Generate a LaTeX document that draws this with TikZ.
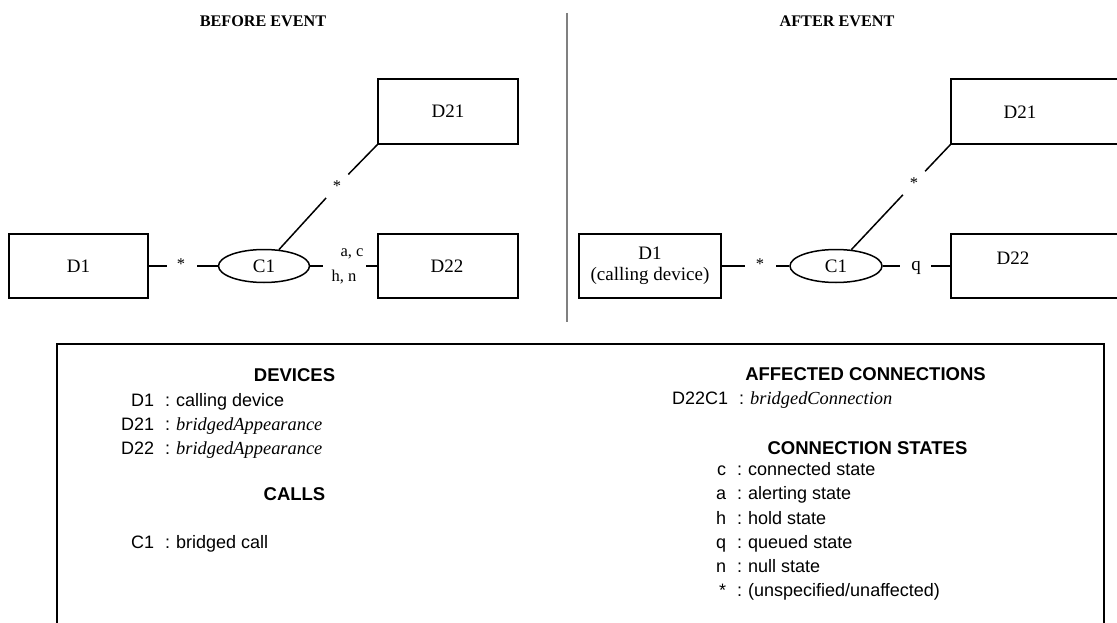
\documentclass[tikz,border=0pt]{standalone}
\usepackage{fontspec}
\setmainfont{Liberation Serif}
\setsansfont{Liberation Sans}
\usetikzlibrary{shapes.geometric}
\tikzset{
  box/.style={draw, line width=1.5pt, rectangle, inner sep=0pt},
  call/.style={draw, line width=1.5pt, ellipse, inner sep=0pt, minimum width=91pt, minimum height=33pt, font=\fontsize{19}{21}\selectfont},
  dlabel/.style={font=\fontsize{19}{21}\selectfont, inner sep=0pt, align=center},
  slabel/.style={font=\fontsize{16.5}{18}\selectfont, inner sep=0pt},
  gap/.style={inner sep=0pt, minimum height=1pt},
  stargap/.style={circle, inner sep=0pt, minimum size=32pt, font=\fontsize{16.5}{18}\selectfont},
  conn/.style={line width=1.5pt},
  title/.style={font=\fontsize{16.2}{18}\selectfont\bfseries},
  lhead/.style={font=\sffamily\bfseries\fontsize{18.5}{20}\selectfont, anchor=base, inner sep=0pt},
  lrow/.style={font=\sffamily\fontsize{18}{20}\selectfont, anchor=base west, inner sep=0pt},
}
\newcommand{\lkey}[1]{\makebox[0pt][r]{#1}\hspace{11pt}:\hspace{6pt}}
\newcommand{\ival}[1]{{\rmfamily\itshape\fontsize{18.4}{20}\selectfont #1}}
\begin{document}
\begin{tikzpicture}[x=1pt,y=-1pt]
\useasboundingbox (0,0) rectangle (1117,623);
\clip (0,0) rectangle (1117,623);

% titles and separator
\node[title] (tb) at (263,21) {BEFORE EVENT};
\node[title] (ta) at (837,21) {AFTER EVENT};
\draw[line width=1.5pt, color=black!50] (567,13) -- (567,322);

% ---------------- BEFORE ----------------
\node[box, minimum width=139pt, minimum height=64pt] (bD1) at (78.5,266) {};
\node[dlabel] (bD1t) at (78.5,266) {D1};
\node[box, minimum width=140pt, minimum height=65pt] (bD21) at (448,111.5) {};
\node[dlabel] (bD21t) at (448,111.5) {D21};
\node[box, minimum width=140pt, minimum height=64pt] (bD22) at (448,266) {};
\node[dlabel] (bD22t) at (447,266) {D22};
\node[call] (bC1) at (264,266) {C1};

\node[gap, minimum width=30pt] (bs1) at (182,266) {};
\node[slabel] (bs1t) at (181,264) {*};
\draw[conn] (bD1.east) -- (bs1.west);
\draw[conn] (bs1.east) -- (bC1.west);

\node[gap, minimum width=43pt] (bg2) at (344.5,266) {};
\node[slabel] (bac) at (352,254) {a, c};
\node[slabel] (bhn) at (344,277) {h, n};
\draw[conn] (bC1.east) -- (bg2.west);
\draw[conn] (bg2.east) -- (bD22.west);

\node[stargap] (bs3) at (337,186) {*};
\draw[conn] (bC1) -- (bs3) -- (bD21.south west);

% ---------------- AFTER ----------------
\node[box, minimum width=142pt, minimum height=64pt] (aD1) at (650,266) {};
\node[dlabel] (aD1t) at (650,266) {D1\\(calling device)};
\node[box, minimum width=180pt, minimum height=65pt] (aD21) at (1041,111.5) {};
\node[dlabel] (aD21t) at (1020,112) {D21};
\node[box, minimum width=180pt, minimum height=64pt] (aD22) at (1041,266) {};
\node[dlabel] (aD22t) at (1013,258) {D22};
\node[call, minimum width=92pt] (aC1) at (836,266) {C1};

\node[gap, minimum width=31pt] (as1) at (760.5,266) {};
\node[slabel] (as1t) at (760,264) {*};
\draw[conn] (aD1.east) -- (as1.west);
\draw[conn] (as1.east) -- (aC1.west);

\node[gap, minimum width=31pt] (aq) at (915.5,266) {};
\node[dlabel] (aqt) at (916,268) {q};
\draw[conn] (aC1.east) -- (aq.west);
\draw[conn] (aq.east) -- (aD22.west);

\node[stargap] (as3) at (914,183) {*};
\draw[conn] (aC1) -- (as3) -- (aD21.south west);

% ---------------- LEGEND ----------------
\draw[line width=2pt] (57,660) -- (57,344) -- (1104,344) -- (1104,660);

\node[lhead] (hdev) at (294.5,381) {DEVICES};
\node[lrow] (r1) at (154,406) {\lkey{D1}calling device};
\node[lrow] (r2) at (154,430) {\lkey{D21}\ival{bridgedAppearance}};
\node[lrow] (r3) at (154,454) {\lkey{D22}\ival{bridgedAppearance}};
\node[lhead] (hcall) at (294.5,500) {CALLS};
\node[lrow] (r4) at (154,548) {\lkey{C1}bridged call};

\node[lhead] (haff) at (865.5,380) {AFFECTED CONNECTIONS};
\node[lrow] (r5) at (728,404) {\lkey{D22C1}\ival{bridgedConnection}};
\node[lhead] (hst) at (867.5,454) {CONNECTION STATES};
\node[lrow] (s1) at (726,475) {\lkey{c}connected state};
\node[lrow] (s2) at (726,499) {\lkey{a}alerting state};
\node[lrow] (s3) at (726,524) {\lkey{h}hold state};
\node[lrow] (s4) at (726,548) {\lkey{q}queued state};
\node[lrow] (s5) at (726,572) {\lkey{n}null state};
\node[lrow] (s6) at (726,596) {\lkey{*}(unspecified/unaffected)};
\end{tikzpicture}
\end{document}
